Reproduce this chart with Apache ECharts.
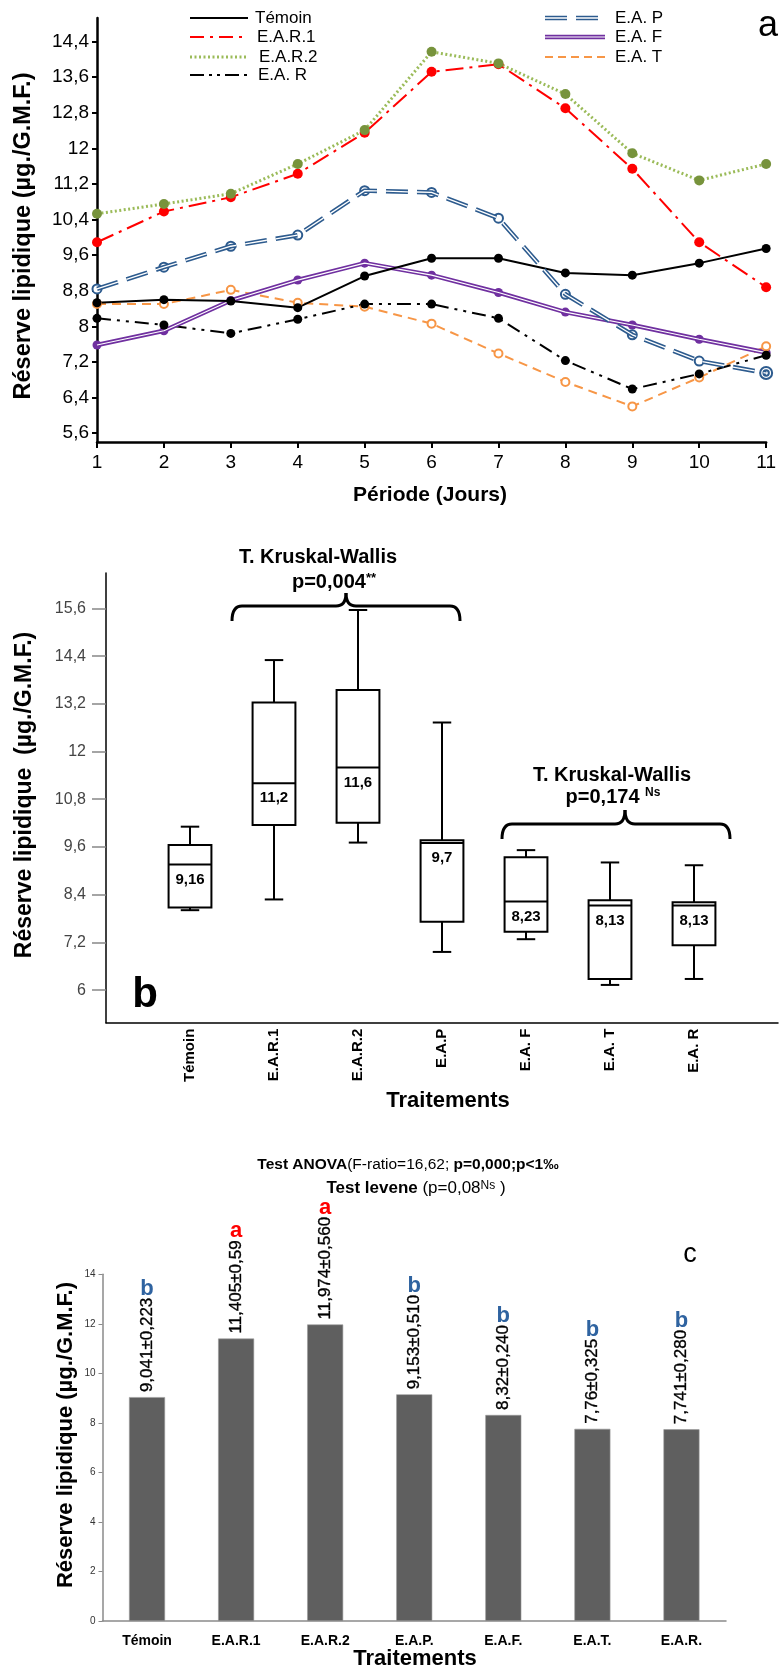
<!DOCTYPE html>
<html>
<head>
<meta charset="utf-8">
<script src="https://cdn.jsdelivr.net/npm/echarts@6/dist/echarts.min.js"></script>
<style>
  html, body { margin: 0; padding: 0; background: #fff; }
  #chart { width: 779px; height: 1668px; }
</style>
</head>
<body>
<div id="chart"></div>
<script>
// ---- (a) lipid reserve over the observation period ----
const days = [1, 2, 3, 4, 5, 6, 7, 8, 9, 10, 11];
const temoin = [8.53, 8.60, 8.57, 8.42, 9.13, 9.53, 9.53, 9.20, 9.15, 9.42, 9.75];
const ear1   = [9.89, 10.58, 10.90, 11.43, 12.35, 13.72, 13.89, 12.90, 11.54, 9.89, 8.88];
const ear2   = [10.53, 10.75, 10.98, 11.65, 12.41, 14.17, 13.91, 13.22, 11.89, 11.28, 11.65];
const eaR    = [8.18, 8.03, 7.84, 8.16, 8.50, 8.50, 8.18, 7.23, 6.59, 6.93, 7.35];
const eaP    = [8.84, 9.33, 9.80, 10.05, 11.05, 11.01, 10.43, 8.72, 7.81, 7.22, 6.95];
const eaF    = [7.58, 7.90, 8.58, 9.04, 9.42, 9.15, 8.76, 8.32, 8.03, 7.71, 7.41];
const eaT    = [8.50, 8.50, 8.82, 8.53, 8.44, 8.06, 7.39, 6.75, 6.20, 6.85, 7.55];
const yTicksA = [5.6, 6.4, 7.2, 8, 8.8, 9.6, 10.4, 11.2, 12, 12.8, 13.6, 14.4];

// ---- (b) distribution per treatment: [low whisker, Q1, median, Q3, high whisker] ----
const boxCategories = ['Témoin', 'E.A.R.1', 'E.A.R.2', 'E.A.P', 'E.A. F', 'E.A. T', 'E.A. R'];
const boxTemoin = [8.01, 8.08, 9.16, 9.65, 10.11];
const boxEar1   = [8.28, 10.15, 11.2, 13.23, 14.30];
const boxEar2   = [9.71, 10.21, 11.6, 13.55, 15.56];
const boxEaP    = [6.96, 7.72, 9.7, 9.77, 12.73];
const boxEaF    = [7.28, 7.47, 8.23, 9.34, 9.52];
const boxEaT    = [6.13, 6.28, 8.13, 8.26, 9.21];
const boxEaR    = [6.28, 7.13, 8.13, 8.21, 9.14];
const yTicksB = [6, 7.2, 8.4, 9.6, 10.8, 12, 13.2, 14.4, 15.6];

// ---- (c) means ± standard error ----
const barCategories = ['Témoin', 'E.A.R.1', 'E.A.R.2', 'E.A.P.', 'E.A.F.', 'E.A.T.', 'E.A.R.'];
const barMeans = [9.041, 11.405, 11.974, 9.153, 8.32, 7.76, 7.741];
const barSE = ['0,223', '0,59', '0,560', '0,510', '0,240', '0,325', '0,280'];
const barGroups = ['b', 'a', 'a', 'b', 'b', 'b', 'b'];

const F = '"Liberation Sans", Arial, sans-serif';
const comma = v => String(+(+v).toFixed(3)).replace('.', ',');
const comma1 = v => String(Math.round(v * 10) / 10).replace('.', ',');

const measureCtx = document.createElement('canvas').getContext('2d');
function textWidth(t, font) { measureCtx.font = font; return measureCtx.measureText(t).width; }

const pts = arr => days.map((d, i) => [d, arr[i]]);
const base = { xAxisIndex: 0, yAxisIndex: 0, animation: false };

const BLUE = '#2d5b8e', PURPLE = '#7030a0', ORANGE = '#f79646', RED = '#ff0000',
      GREEN_LINE = '#9bbb59', GREEN_DOT = '#77933c';
const ringSymbol = 'path://M0,-10A10,10,0,1,1,0,10A10,10,0,1,1,0,-10ZM0,-4.5A4.5,4.5,0,1,1,0,4.5A4.5,4.5,0,1,1,0,-4.5Z';

const seriesA = [
  Object.assign({ type: 'line', name: 'E.A. T', data: pts(eaT), symbol: 'circle', symbolSize: 8,
    lineStyle: { color: ORANGE, width: 2, type: [9, 6] },
    itemStyle: { color: '#fff', borderColor: ORANGE, borderWidth: 2 } }, base),
  Object.assign({ type: 'line', name: 'E.A. R', data: pts(eaR), symbol: 'circle', symbolSize: 9,
    lineStyle: { color: '#000', width: 2, type: [14, 6, 3, 6, 3, 6] },
    itemStyle: { color: '#000' } }, base),
  Object.assign({ type: 'line', name: 'E.A. F', data: pts(eaF), symbol: 'none',
    lineStyle: { color: PURPLE, width: 4.5 } }, base),
  Object.assign({ type: 'line', data: pts(eaF), symbol: 'none', silent: true,
    lineStyle: { color: '#fff', width: 1.2 } }, base),
  Object.assign({ type: 'scatter', data: pts(eaF), symbol: 'circle', symbolSize: 9,
    itemStyle: { color: PURPLE, opacity: 1 } }, base),
  Object.assign({ type: 'line', name: 'Témoin', data: pts(temoin), symbol: 'circle', symbolSize: 9,
    lineStyle: { color: '#000', width: 2 }, itemStyle: { color: '#000' } }, base),
  Object.assign({ type: 'line', name: 'E.A. P', data: pts(eaP), symbol: 'none',
    lineStyle: { color: BLUE, width: 4.5, type: [22, 9] } }, base),
  Object.assign({ type: 'line', data: pts(eaP), symbol: 'none', silent: true,
    lineStyle: { color: '#fff', width: 1.3, type: [22, 9] } }, base),
  Object.assign({ type: 'scatter', data: pts(eaP),
    symbol: (v, p) => p.dataIndex === days.length - 1 ? ringSymbol : 'circle',
    symbolSize: (v, p) => p.dataIndex === days.length - 1 ? 12 : 9,
    itemStyle: { color: '#fff', borderColor: BLUE, borderWidth: 2, opacity: 1 } }, base),
  Object.assign({ type: 'line', name: 'E.A.R.1', data: pts(ear1), symbol: 'circle', symbolSize: 10,
    lineStyle: { color: RED, width: 2, type: [18, 6, 3, 6] }, itemStyle: { color: RED } }, base),
  Object.assign({ type: 'line', name: 'E.A.R.2', data: pts(ear2), symbol: 'circle', symbolSize: 10,
    lineStyle: { color: GREEN_LINE, width: 3, type: [2, 2.5] }, itemStyle: { color: GREEN_DOT } }, base)
];

// box-and-whisker marks for panel (b)
const boxStats = [boxTemoin, boxEar1, boxEar2, boxEaP, boxEaF, boxEaT, boxEaR];
const boxSeries = {
  type: 'custom', xAxisIndex: 1, yAxisIndex: 1, animation: false,
  data: boxStats.map((s, i) => [i + 1].concat(s)),
  encode: { x: 0, y: [1, 2, 3, 4, 5] },
  renderItem(params, api) {
    const x = api.value(0);
    const lo = api.coord([x, api.value(1)]);
    const q1 = api.coord([x, api.value(2)]);
    const med = api.coord([x, api.value(3)]);
    const q3 = api.coord([x, api.value(4)]);
    const hi = api.coord([x, api.value(5)]);
    const unit = api.size([1, 0])[0];
    const hw = unit * 0.255, cw = unit * 0.11;
    const st = { stroke: '#000', lineWidth: 2 };
    return {
      type: 'group',
      children: [
        { type: 'line', shape: { x1: hi[0], y1: hi[1], x2: q3[0], y2: q3[1] }, style: st },
        { type: 'line', shape: { x1: hi[0] - cw, y1: hi[1], x2: hi[0] + cw, y2: hi[1] }, style: st },
        { type: 'line', shape: { x1: q1[0], y1: q1[1], x2: lo[0], y2: lo[1] }, style: st },
        { type: 'line', shape: { x1: lo[0] - cw, y1: lo[1], x2: lo[0] + cw, y2: lo[1] }, style: st },
        { type: 'rect', shape: { x: q3[0] - hw, y: q3[1], width: 2 * hw, height: q1[1] - q3[1] },
          style: { fill: '#fff', stroke: '#000', lineWidth: 2 } },
        { type: 'line', shape: { x1: med[0] - hw, y1: med[1], x2: med[0] + hw, y2: med[1] }, style: st },
        { type: 'text', x: med[0], y: med[1] + 15,
          style: { text: comma(api.value(3)), font: 'bold 15px ' + F, fill: '#000',
                   align: 'center', verticalAlign: 'middle' } }
      ]
    };
  }
};

// bars and their rotated value labels for panel (c)
const barSeries = {
  type: 'bar', xAxisIndex: 2, yAxisIndex: 2, animation: false,
  data: barMeans, barWidth: 36,
  itemStyle: { color: '#5f5f5f', borderColor: '#9a9a9a', borderWidth: 0.6 }
};
const LABEL_FONT = '17px ' + F;
const barLabelSeries = {
  type: 'custom', xAxisIndex: 2, yAxisIndex: 2, animation: false, silent: true,
  data: barMeans.map((v, i) => [i, v]),
  renderItem(params, api) {
    const i = params.dataIndex;
    const p = api.coord([api.value(0), api.value(1)]);
    const label = comma(barMeans[i]) + '±' + barSE[i];
    const w = textWidth(label, LABEL_FONT);
    const g = barGroups[i];
    return {
      type: 'group',
      children: [
        { type: 'text', x: p[0], y: p[1] - 5, rotation: Math.PI / 2,
          style: { text: label, font: LABEL_FONT, fill: '#000', align: 'left', verticalAlign: 'middle',
                   stroke: '#000', lineWidth: 0.35 } },
        { type: 'text', x: p[0], y: p[1] - 5 - w + 2,
          style: { text: g, font: 'bold 22px ' + F, fill: g === 'a' ? '#ff0000' : '#2f63a0',
                   align: 'center', verticalAlign: 'bottom' } }
      ]
    };
  }
};

// legend for panel (a)
function legendRow(x1, x2, y, strokes, label, tx) {
  const els = strokes.map(s => ({
    type: 'line', silent: true,
    shape: { x1: x1, y1: y, x2: x2, y2: y },
    style: Object.assign({ lineWidth: 2 }, s)
  }));
  els.push({ type: 'text', silent: true, x: tx, y: y,
    style: { text: label, font: '17px ' + F, fill: '#000', align: 'left', verticalAlign: 'middle' } });
  return els;
}
const legendEls = [].concat(
  legendRow(190, 248, 18, [{ stroke: '#000' }], 'Témoin', 255),
  legendRow(190, 248, 37, [{ stroke: RED, lineDash: [14, 6, 3, 6] }], 'E.A.R.1', 257),
  legendRow(190, 248, 57, [{ stroke: GREEN_LINE, lineWidth: 3, lineDash: [2, 2.5] }], 'E.A.R.2', 259),
  legendRow(190, 248, 75, [{ stroke: '#000', lineDash: [14, 5, 3, 5, 3, 5] }], 'E.A. R', 258),
  legendRow(545, 605, 18, [{ stroke: BLUE, lineWidth: 4.5, lineDash: [22, 9] },
                           { stroke: '#fff', lineWidth: 1.3, lineDash: [22, 9] }], 'E.A. P', 615),
  legendRow(545, 605, 37, [{ stroke: PURPLE, lineWidth: 4.5 }, { stroke: '#fff', lineWidth: 1.2 }], 'E.A. F', 615),
  legendRow(545, 605, 57, [{ stroke: ORANGE, lineDash: [8, 5] }], 'E.A. T', 615)
);

function txt(x, y, text, font, extra) {
  return Object.assign({ type: 'text', silent: true, x: x, y: y,
    style: { text: text, font: font, fill: '#000', align: 'center', verticalAlign: 'middle' } }, extra || {});
}
function vtxt(x, y, text, font) {
  return txt(x, y, text, font, { rotation: Math.PI / 2 });
}
// curly bracket drawn from straight segments and quadratic corners
function brace(xl, xr, yTop, yEnd, xPeak, yPeak) {
  const r = 10;
  const st = { stroke: '#000', lineWidth: 3, fill: null };
  const q = (x1, y1, cx, cy, x2, y2) => ({ type: 'bezierCurve', silent: true,
    shape: { x1: x1, y1: y1, cpx1: cx, cpy1: cy, x2: x2, y2: y2 }, style: st });
  const l = (x1, y1, x2, y2) => ({ type: 'line', silent: true,
    shape: { x1: x1, y1: y1, x2: x2, y2: y2 }, style: st });
  return [
    q(xl, yEnd, xl, yTop, xl + r, yTop),
    l(xl + r, yTop, xPeak - r, yTop),
    q(xPeak - r, yTop, xPeak, yTop, xPeak, yPeak),
    q(xPeak, yPeak, xPeak, yTop, xPeak + r, yTop),
    l(xPeak + r, yTop, xr - r, yTop),
    q(xr - r, yTop, xr, yTop, xr, yEnd)
  ];
}
const YTITLE = 'Réserve lipidique (µg./G.M.F.)';

const graphics = [].concat(legendEls, [
  txt(768, 26, 'a', '36px ' + F),
  vtxt(24, 236, YTITLE, 'bold 23.5px ' + F),
  txt(430, 495, 'Période (Jours)', 'bold 21px ' + F),

  txt(318, 557, 'T. Kruskal-Wallis', 'bold 20px ' + F),
  { type: 'text', silent: true, x: 334, y: 582,
    style: { text: '{m|p=0,004}{s|**}', align: 'center', verticalAlign: 'middle',
      rich: { m: { font: 'bold 20px ' + F, fill: '#000' },
              s: { font: 'bold 13px ' + F, fill: '#000', verticalAlign: 'top' } } } },
  txt(612, 775, 'T. Kruskal-Wallis', 'bold 20px ' + F),
  { type: 'text', silent: true, x: 613, y: 797,
    style: { text: '{m|p=0,174 }{s|Ns}', align: 'center', verticalAlign: 'middle',
      rich: { m: { font: 'bold 20px ' + F, fill: '#000' },
              s: { font: 'bold 12px ' + F, fill: '#000', verticalAlign: 'top' } } } },
  vtxt(25, 795, 'Réserve lipidique  (µg./G.M.F.)', 'bold 23px ' + F),
  txt(145, 995, 'b', 'bold 42px ' + F),
  txt(448, 1101, 'Traitements', 'bold 22px ' + F),

  { type: 'text', silent: true, x: 408, y: 1165,
    style: { text: '{b|Test ANOVA}{r|(F-ratio=16,62; }{b|p=0,000;p<1‰}', align: 'center', verticalAlign: 'middle',
      rich: { b: { font: 'bold 15.5px ' + F, fill: '#000' }, r: { font: '15.5px ' + F, fill: '#000' } } } },
  { type: 'text', silent: true, x: 416, y: 1188,
    style: { text: '{b|Test levene}{r| (p=0,08}{s|Ns}{r| )}', align: 'center', verticalAlign: 'middle',
      rich: { b: { font: 'bold 17px ' + F, fill: '#000' }, r: { font: '17px ' + F, fill: '#000' },
              s: { font: '12px ' + F, fill: '#000', verticalAlign: 'top' } } } },
  txt(690, 1255, 'c', '27px ' + F),
  vtxt(66, 1435, YTITLE, 'bold 22px ' + F),
  txt(415, 1659, 'Traitements', 'bold 22px ' + F)
], brace(232, 460, 606, 621, 346, 593), brace(502, 730, 824, 839, 625, 810));

const option = {
  backgroundColor: '#fff',
  animation: false,
  grid: [
    { left: 97, top: 18, width: 670, height: 424, containLabel: false },
    { left: 106, top: 573, width: 672, height: 449.7, containLabel: false },
    { left: 102.5, top: 1274.3, width: 623.5, height: 346.7, containLabel: false }
  ],
  xAxis: [
    { gridIndex: 0, type: 'value', min: 1, max: 11, interval: 1,
      axisLine: { lineStyle: { color: '#000', width: 2.5 } },
      axisTick: { length: 6, lineStyle: { color: '#000', width: 2 } },
      axisLabel: { fontFamily: F, fontSize: 19, color: '#000', margin: 11 },
      splitLine: { show: false } },
    { gridIndex: 1, type: 'value', min: 0, max: 8,
      axisLine: { lineStyle: { color: '#000', width: 1.5 } },
      axisTick: { show: false },
      axisLabel: { customValues: [1, 2, 3, 4, 5, 6, 7], formatter: v => boxCategories[Math.round(v) - 1],
        rotate: 90, fontFamily: F, fontWeight: 'bold', fontSize: 15, color: '#000', margin: 6 },
      splitLine: { show: false } },
    { gridIndex: 2, type: 'category', data: barCategories,
      axisLine: { lineStyle: { color: '#8a8a8a', width: 1.5 } },
      axisTick: { length: 5, lineStyle: { color: '#8a8a8a' } },
      axisLabel: { fontFamily: F, fontWeight: 'bold', fontSize: 14, color: '#000', margin: 13 } }
  ],
  yAxis: [
    { gridIndex: 0, type: 'value', min: 5.4, max: 14.93,
      axisLine: { show: true, lineStyle: { color: '#000', width: 2.5 } },
      axisTick: { show: true, length: 5, customValues: yTicksA, lineStyle: { color: '#000', width: 2 } },
      axisLabel: { customValues: yTicksA, formatter: comma1, fontFamily: F, fontSize: 19,
        color: '#000', margin: 8, padding: [0, 0, 10, 0] },
      splitLine: { show: false } },
    { gridIndex: 1, type: 'value', min: 5.18, max: 16.49,
      axisLine: { show: true, lineStyle: { color: '#000', width: 1.5 } },
      axisTick: { show: true, length: 14, customValues: yTicksB, lineStyle: { color: '#888', width: 1.5 } },
      axisLabel: { customValues: yTicksB, formatter: comma1, fontFamily: F, fontSize: 16,
        color: '#444', margin: 20, padding: [0, 0, 18, 0] },
      splitLine: { show: false } },
    { gridIndex: 2, type: 'value', min: 0, max: 14, interval: 2,
      axisLine: { show: true, lineStyle: { color: '#8a8a8a', width: 1.5 } },
      axisTick: { show: true, length: 4, lineStyle: { color: '#8a8a8a' } },
      axisLabel: { fontFamily: F, fontSize: 10, color: '#333', margin: 7 },
      splitLine: { show: false } }
  ],
  series: seriesA.concat([boxSeries, barSeries, barLabelSeries]),
  graphic: graphics
};

const chart = echarts.init(document.getElementById('chart'), null, { renderer: 'canvas' });
chart.setOption(option);
</script>
</body>
</html>
